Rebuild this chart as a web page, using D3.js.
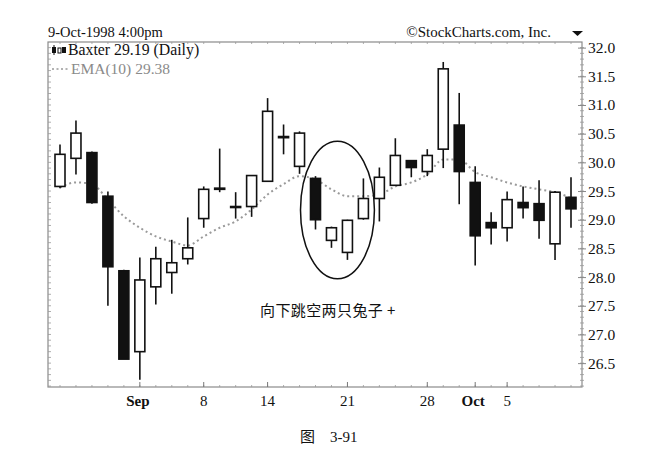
<!DOCTYPE html>
<html><head><meta charset="utf-8">
<script src="https://cdn.jsdelivr.net/npm/d3@7"></script>
<style>
html,body{margin:0;padding:0;background:#fff;}
svg{display:block;}
</style>
</head><body>
<svg id="c" width="672" height="452"></svg>
<script>
const dates = ["Aug 25","Aug 26","Aug 27","Aug 28","Aug 31","Sep 1","Sep 2","Sep 3","Sep 4","Sep 8","Sep 9","Sep 10","Sep 11","Sep 14","Sep 15","Sep 16","Sep 17","Sep 18","Sep 21","Sep 22","Sep 23","Sep 24","Sep 25","Sep 28","Sep 29","Sep 30","Oct 1","Oct 2","Oct 5","Oct 6","Oct 7","Oct 8","Oct 9"];
const openVals  = [29.58,30.07,30.17,29.41,28.11,26.70,27.83,28.08,28.32,29.02,29.53,29.23,29.23,29.67,30.45,29.93,29.72,28.64,28.43,29.02,29.37,29.60,30.03,29.84,30.23,30.65,29.65,28.95,28.86,29.30,29.28,28.58,29.39];
const closeVals = [30.14,30.51,29.30,28.18,26.57,27.95,28.32,28.25,28.51,29.53,29.55,29.22,29.77,30.89,30.43,30.51,29.00,28.86,28.99,29.37,29.74,30.12,29.91,30.12,31.63,29.84,28.72,28.86,29.35,29.21,28.99,29.48,29.19];
const highVals  = [30.31,30.73,30.19,29.49,28.13,28.34,28.53,28.65,29.04,29.58,30.24,29.48,29.78,31.12,30.66,30.54,29.76,28.88,29.00,29.72,29.91,30.42,30.04,30.23,31.75,31.21,29.93,29.13,29.49,29.58,29.69,29.50,29.74];
const lowVals   = [29.55,29.79,29.28,27.50,26.57,26.21,27.52,27.71,28.22,28.86,29.48,29.02,29.05,29.67,30.14,29.80,28.83,28.51,28.30,29.00,28.97,29.60,29.74,29.76,29.90,29.27,28.20,28.57,28.62,29.02,28.67,28.30,28.86];
const emaVals   = [29.56,29.65,29.62,29.35,29.06,28.86,28.71,28.62,28.55,28.71,28.86,28.97,29.18,29.44,29.62,29.76,29.70,29.53,29.41,29.41,29.44,29.58,29.65,29.79,30.05,30.05,29.83,29.74,29.65,29.58,29.53,29.48,29.38];
const xTickDates  = ["Sep 1","Sep 8","Sep 14","Sep 21","Sep 28","Oct 1","Oct 5"];
const xTickLabels = ["Sep","8","14","21","28","Oct","5"];
const xTickBold   = [true,false,false,false,false,true,false];
const yTicks = [26.5,27.0,27.5,28.0,28.5,29.0,29.5,30.0,30.5,31.0,31.5,32.0];
const titleText = "9-Oct-1998 4:00pm";
const creditText = "©StockCharts.com, Inc.";
const seriesLabel = "Baxter 29.19 (Daily)";
const emaLabel = "EMA(10) 29.38";
const noteText = "向下跳空两只兔子 +";
const captionText = "图　3-91";

const svg = d3.select("#c");
const L = 48, R = 582, T = 42, B = 387;
const serif = "'Liberation Serif','DejaVu Serif',serif";

const x = d3.scalePoint().domain(dates).range([60, 571]);
const y = d3.scaleLinear().domain([26.084, 32.098]).range([B, T]);

// frame
svg.append("rect").attr("x", L).attr("y", T).attr("width", R - L).attr("height", B - T)
  .attr("fill", "none").attr("stroke", "#8a8a8a").attr("stroke-width", 1.2);

// minor ticks left & right
const minor = d3.range(26.1, 32.05, 0.1);
svg.append("g").selectAll("line").data(minor).join("line")
  .attr("x1", L).attr("x2", L + 3).attr("y1", d => y(d)).attr("y2", d => y(d))
  .attr("stroke", "#999").attr("stroke-width", 0.8);
svg.append("g").selectAll("line").data(minor).join("line")
  .attr("x1", R - 2).attr("x2", R + 2).attr("y1", d => y(d)).attr("y2", d => y(d))
  .attr("stroke", "#999").attr("stroke-width", 0.8);
// top/bottom day ticks
svg.append("g").selectAll("line").data(dates).join("line")
  .attr("x1", d => x(d)).attr("x2", d => x(d)).attr("y1", T).attr("y2", T + 2)
  .attr("stroke", "#999").attr("stroke-width", 0.8);
svg.append("g").selectAll("line").data(dates).join("line")
  .attr("x1", d => x(d)).attr("x2", d => x(d)).attr("y1", B).attr("y2", B - 2)
  .attr("stroke", "#999").attr("stroke-width", 0.8);

// right y axis
const yAxis = d3.axisRight(y).tickValues(yTicks).tickFormat(d3.format(".1f")).tickSize(4).tickPadding(2);
const gy = svg.append("g").attr("transform", `translate(${R - 2},0)`).call(yAxis);
gy.select(".domain").remove();
gy.selectAll(".tick line").attr("stroke", "#888").attr("x1", -2).attr("x2", 6);
gy.selectAll(".tick text").attr("font-family", serif).attr("font-size", 15.5).attr("fill", "#111").attr("x", 8);

// bottom x axis labels
const gx = svg.append("g");
xTickDates.forEach((d, i) => {
  gx.append("line").attr("x1", x(d)).attr("x2", x(d)).attr("y1", B).attr("y2", B - 5)
    .attr("stroke", "#777").attr("stroke-width", 1);
  gx.append("text").attr("x", x(d) - (xTickBold[i] ? 2 : 0)).attr("y", B + 19).attr("text-anchor", "middle")
    .attr("font-family", serif).attr("font-size", 15)
    .attr("font-weight", xTickBold[i] ? "bold" : "normal").attr("fill", "#111")
    .text(xTickLabels[i]);
});

// EMA dotted line
const line = d3.line().x((d, i) => x(dates[i])).y(d => y(d)).curve(d3.curveMonotoneX);
svg.append("path").datum(emaVals).attr("d", line).attr("fill", "none")
  .attr("stroke", "#9a9a9a").attr("stroke-width", 2).attr("stroke-dasharray", "2,3");

// candles
const bw = 10;
const candles = svg.append("g");
dates.forEach((d, i) => {
  const o = openVals[i], c = closeVals[i];
  const up = c >= o;
  candles.append("line").attr("x1", x(d)).attr("x2", x(d))
    .attr("y1", y(highVals[i])).attr("y2", y(lowVals[i]))
    .attr("stroke", "#111").attr("stroke-width", 1.6);
  const top = y(Math.max(o, c)), bot = y(Math.min(o, c));
  candles.append("rect").attr("x", x(d) - bw / 2).attr("y", top)
    .attr("width", bw).attr("height", Math.max(bot - top, 1))
    .attr("fill", up ? "#fff" : "#111").attr("stroke", "#111").attr("stroke-width", 1.6);
});

// ellipse around gap candles
const ex0 = x("Sep 17") - 15, ex1 = x("Sep 22") + 11;
const eTop = 30.37, eBot = 27.97;
svg.append("ellipse").attr("cx", (ex0 + ex1) / 2).attr("cy", (y(eTop) + y(eBot)) / 2)
  .attr("rx", (ex1 - ex0) / 2).attr("ry", (y(eBot) - y(eTop)) / 2)
  .attr("fill", "none").attr("stroke", "#111").attr("stroke-width", 1.5);

// header
svg.append("text").attr("x", 48).attr("y", 37).attr("font-family", serif).attr("font-size", 14.5)
  .attr("fill", "#111").text(titleText);
svg.append("text").attr("x", 551).attr("y", 37).attr("text-anchor", "end").attr("font-family", serif)
  .attr("font-size", 15).attr("fill", "#111").text(creditText);
svg.append("path").attr("d", "M572,31 L583,31 L577.5,36 Z").attr("fill", "#111");

// legend
const lg = svg.append("g");
lg.append("rect").attr("x", 52).attr("y", 47).attr("width", 4).attr("height", 6).attr("fill", "#111");
lg.append("line").attr("x1", 54).attr("x2", 54).attr("y1", 45).attr("y2", 55).attr("stroke", "#111").attr("stroke-width", 1);
lg.append("rect").attr("x", 58).attr("y", 48).attr("width", 3).attr("height", 5).attr("fill", "none").attr("stroke", "#111").attr("stroke-width", 1);
lg.append("rect").attr("x", 62).attr("y", 47).attr("width", 4).attr("height", 6).attr("fill", "#111");
lg.append("text").attr("x", 68).attr("y", 55).attr("font-family", serif).attr("font-size", 15.8)
  .attr("fill", "#111").text(seriesLabel);
lg.append("line").attr("x1", 52).attr("x2", 69).attr("y1", 69).attr("y2", 69)
  .attr("stroke", "#999").attr("stroke-width", 1.5).attr("stroke-dasharray", "2,2.5");
lg.append("text").attr("x", 71).attr("y", 74).attr("font-family", serif).attr("font-size", 15.5)
  .attr("fill", "#8a8a8a").text(emaLabel);

// annotation
svg.append("text").attr("x", 260).attr("y", 316).attr("font-family", "'Noto Sans CJK SC',sans-serif")
  .attr("font-size", 15).attr("letter-spacing", 0.4).attr("fill", "#111").text(noteText);

// caption
svg.append("text").attr("x", 300).attr("y", 442).attr("font-family", "'Liberation Serif','Noto Sans CJK SC',serif")
  .attr("font-size", 15).attr("fill", "#111").text(captionText);
</script>
</body></html>
